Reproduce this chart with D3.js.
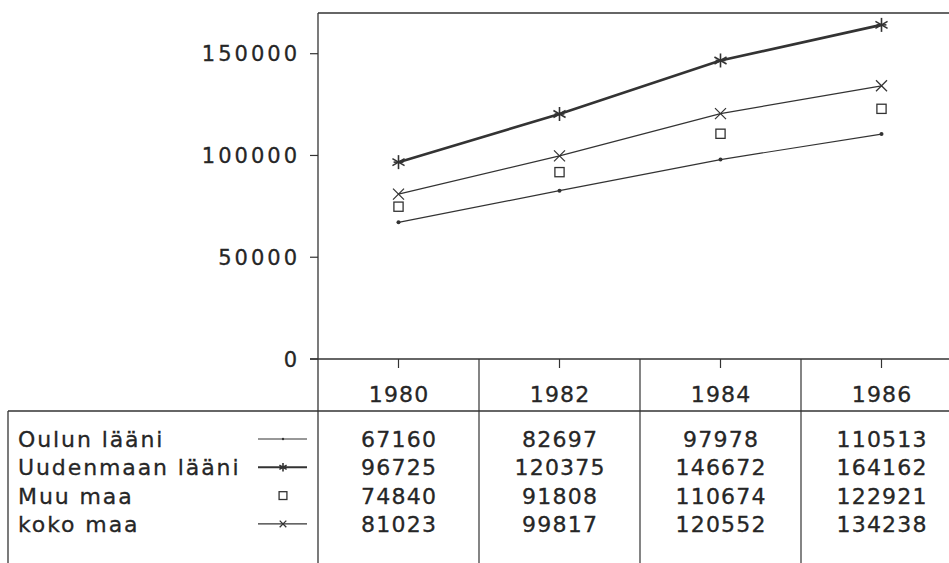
<!DOCTYPE html>
<html>
<head>
<meta charset="utf-8">
<script src="https://cdn.jsdelivr.net/npm/d3@7"></script>
<style>
  html, body { margin: 0; padding: 0; background: #fff; }
  svg { display: block; }
  text { font-family: "DejaVu Sans", "Liberation Sans", Arial, sans-serif; fill: #262626; stroke: #262626; stroke-width: 0.3; }
</style>
</head>
<body>
<svg id="chart" width="949" height="563"></svg>
<script>
// ---- data ----
const years = ["1980", "1982", "1984", "1986"];
const seriesNames = ["Oulun lääni", "Uudenmaan lääni", "Muu maa", "koko maa"];
const oulu = [67160, 82697, 97978, 110513];
const uusimaa = [96725, 120375, 146672, 164162];
const muuMaa = [74840, 91808, 110674, 122921];
const kokoMaa = [81023, 99817, 120552, 134238];
const yTicks = [0, 50000, 100000, 150000];

const seriesValues = [oulu, uusimaa, muuMaa, kokoMaa];
const seriesStyle = [
  { marker: "dot", line: true, width: 1.2 },
  { marker: "star", line: true, width: 2.6 },
  { marker: "square", line: false, width: 1.2 },
  { marker: "cross", line: true, width: 1.2 }
];

const ink = "#333";
const svg = d3.select("#chart");

const x = d3.scaleBand().domain(years).range([318, 962]).paddingInner(0).paddingOuter(0);
const y = d3.scaleLinear().domain([0, 170000]).range([359, 13]);
const cx = d => x(d) + x.bandwidth() / 2;

// frame lines
const g = svg.append("g").attr("stroke", ink).attr("fill", "none");
g.append("line").attr("x1", 318).attr("x2", 962).attr("y1", y(170000)).attr("y2", y(170000)).attr("stroke-width", 1.3);
g.append("line").attr("x1", 318).attr("x2", 318).attr("y1", y(170000)).attr("y2", 563).attr("stroke-width", 1.3);
g.append("line").attr("x1", 310).attr("x2", 962).attr("y1", y(0)).attr("y2", y(0)).attr("stroke-width", 1.3);
g.append("line").attr("x1", 8).attr("x2", 962).attr("y1", 411).attr("y2", 411).attr("stroke-width", 1.3);
g.append("line").attr("x1", 8).attr("x2", 8).attr("y1", 411).attr("y2", 563).attr("stroke-width", 1.3);
years.slice(1).forEach(yr => {
  g.append("line").attr("x1", x(yr)).attr("x2", x(yr)).attr("y1", y(0)).attr("y2", 563).attr("stroke-width", 1.2);
});
// x ticks
years.forEach(yr => {
  g.append("line").attr("x1", cx(yr)).attr("x2", cx(yr)).attr("y1", y(0)).attr("y2", y(0) + 9).attr("stroke-width", 1.2);
});

// y axis ticks + labels
const yAxis = svg.append("g");
yTicks.forEach(t => {
  yAxis.append("line").attr("x1", 310).attr("x2", 318).attr("y1", y(t)).attr("y2", y(t))
    .attr("stroke", ink).attr("stroke-width", 1.2);
  yAxis.append("text").attr("x", 297 + 3).attr("y", y(t) + 7.5)
    .attr("text-anchor", "end").attr("font-size", 21).attr("letter-spacing", 3)
    .text(d3.format("d")(t));
});

// markers
function drawMarker(sel, type, px, py, s) {
  const mg = sel.append("g").attr("transform", `translate(${px},${py})`).attr("stroke", ink).attr("fill", "none");
  if (type === "dot") {
    mg.append("circle").attr("r", 2 * s).attr("fill", ink).attr("stroke", "none");
  } else if (type === "star") {
    const r = 7 * s;
    [90, 30, 150].forEach(a => {
      const rad = a * Math.PI / 180;
      mg.append("line").attr("x1", -r * Math.cos(rad)).attr("y1", -r * Math.sin(rad))
        .attr("x2", r * Math.cos(rad)).attr("y2", r * Math.sin(rad)).attr("stroke-width", 1.6);
    });
    mg.append("line").attr("x1", -r * 0.7).attr("x2", r * 0.7).attr("y1", 0).attr("y2", 0).attr("stroke-width", 1.6);
  } else if (type === "cross") {
    const r = 5.5 * s;
    mg.append("line").attr("x1", -r).attr("y1", -r).attr("x2", r).attr("y2", r).attr("stroke-width", 1.3);
    mg.append("line").attr("x1", -r).attr("y1", r).attr("x2", r).attr("y2", -r).attr("stroke-width", 1.3);
  } else if (type === "square") {
    const h = 4.6 * s;
    mg.append("rect").attr("x", -h).attr("y", -h).attr("width", 2 * h).attr("height", 2 * h).attr("stroke-width", 1.3);
  }
}

// series
const plot = svg.append("g");
const line = d3.line().x((d, i) => cx(years[i])).y(d => y(d));
seriesValues.forEach((vals, si) => {
  const st = seriesStyle[si];
  if (st.line) {
    plot.append("path").datum(vals).attr("d", line)
      .attr("fill", "none").attr("stroke", ink).attr("stroke-width", st.width);
  }
  vals.forEach((v, i) => drawMarker(plot, st.marker, cx(years[i]), y(v), 1));
});

// table header
const tbl = svg.append("g");
const tfs = 22, tls = 1.2;
years.forEach(yr => {
  tbl.append("text").attr("x", cx(yr) + tls / 2).attr("y", 401.5)
    .attr("text-anchor", "middle").attr("font-size", tfs).attr("letter-spacing", tls)
    .text(yr);
});

// table rows
const rowBase = [447, 475.3, 503.6, 531.9];
seriesNames.forEach((name, si) => {
  const by = rowBase[si];
  tbl.append("text").attr("x", 18).attr("y", by)
    .attr("font-size", tfs).attr("letter-spacing", 1.9).text(name);
  const my = by - 8;
  const st = seriesStyle[si];
  if (st.line) {
    tbl.append("line").attr("x1", 258).attr("x2", 307).attr("y1", my).attr("y2", my)
      .attr("stroke", ink).attr("stroke-width", si === 1 ? 2 : 1.1);
  }
  drawMarker(tbl, st.marker, 283, my, st.marker === "square" ? 0.85 : 0.6);
  seriesValues[si].forEach((v, i) => {
    tbl.append("text").attr("x", cx(years[i]) + tls / 2).attr("y", by)
      .attr("text-anchor", "middle").attr("font-size", tfs).attr("letter-spacing", tls)
      .text(v);
  });
});
</script>
</body>
</html>
